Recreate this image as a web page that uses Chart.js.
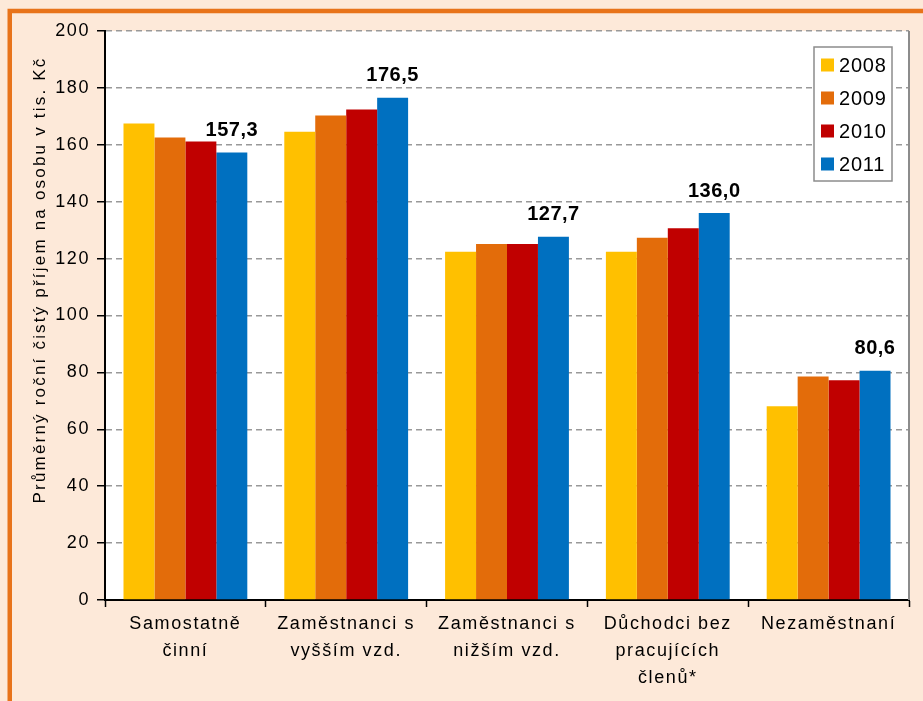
<!DOCTYPE html>
<html>
<head>
<meta charset="utf-8">
<script src="https://cdn.jsdelivr.net/npm/chart.js@4/dist/chart.umd.min.js"></script>
<style>
  html, body { margin: 0; padding: 0; background: #fde9d9; }
  #wrap { width: 923px; height: 701px; }
</style>
</head>
<body>
<div id="wrap"><canvas id="c" width="923" height="701"></canvas></div>
<script>
// kategorie (víceřádkové popisky)
const categories = [
    ['Samostatně', 'činní'],
    ['Zaměstnanci s', 'vyšším vzd.'],
    ['Zaměstnanci s', 'nižším vzd.'],
    ['Důchodci bez', 'pracujících', 'členů*'],
    ['Nezaměstnaní']
];
const years = ['2008', '2009', '2010', '2011'];
const values2008 = [167.5, 164.6, 122.4, 122.4, 68.1];
const values2009 = [162.6, 170.3, 125.1, 127.3, 78.6];
const values2010 = [161.2, 172.4, 125.1, 130.7, 77.2];
const values2011 = [157.3, 176.5, 127.7, 136.0, 80.6];
const yTicks = [0, 20, 40, 60, 80, 100, 120, 140, 160, 180, 200];
const yTitle = 'Průměrný roční čistý příjem na osobu v tis. Kč';

const colors = ['#ffc000', '#e36c0a', '#c00000', '#0070c0'];
const seriesValues = [values2008, values2009, values2010, values2011];
const FONT = '"Liberation Sans", Arial, sans-serif';

// pozadí, rámeček, bílá plocha grafu
const backgroundPlugin = {
    id: 'bg',
    beforeDraw(chart) {
        const ctx = chart.ctx;
        const a = chart.chartArea;
        // širší proložení písma jako v Excelu
        ctx.letterSpacing = '1.6px';
        ctx.save();
        ctx.fillStyle = '#fde9d9';
        ctx.fillRect(0, 0, chart.width, chart.height);
        ctx.strokeStyle = '#e8731a';
        ctx.lineWidth = 4.5;
        ctx.beginPath();
        ctx.moveTo(9.75, chart.height + 5);
        ctx.lineTo(9.75, 11);
        ctx.lineTo(chart.width + 5, 11);
        ctx.stroke();
        ctx.fillStyle = '#ffffff';
        ctx.fillRect(a.left, a.top, a.right - a.left, a.bottom - a.top);
        ctx.restore();
    },
    afterDraw(chart) {
        const ctx = chart.ctx;
        const a = chart.chartArea;
        ctx.save();
        // pravý okraj plochy
        ctx.strokeStyle = '#8c8c8c';
        ctx.lineWidth = 2;
        ctx.beginPath();
        ctx.moveTo(a.right, a.top);
        ctx.lineTo(a.right, a.bottom);
        ctx.stroke();
        // popisek osy Y
        ctx.translate(40, 280);
        ctx.rotate(-Math.PI / 2);
        ctx.fillStyle = '#000';
        ctx.letterSpacing = '2.2px';
        ctx.font = '17px ' + FONT;
        ctx.textAlign = 'center';
        ctx.textBaseline = 'middle';
        ctx.fillText(yTitle, 0, 0);
        ctx.restore();
    }
};

// hodnoty nad sloupci 2011
const labelPlugin = {
    id: 'labels2011',
    afterDatasetsDraw(chart) {
        const ctx = chart.ctx;
        const meta = chart.getDatasetMeta(3);
        ctx.save();
        ctx.letterSpacing = '0.5px';
        ctx.fillStyle = '#000';
        ctx.font = 'bold 20px ' + FONT;
        ctx.textAlign = 'center';
        ctx.textBaseline = 'bottom';
        meta.data.forEach((bar, i) => {
            const txt = values2011[i].toFixed(1).replace('.', ',');
            ctx.fillText(txt, bar.x, bar.y - 12);
        });
        ctx.restore();
    }
};

// legenda uvnitř plochy grafu
const legendBoxPlugin = {
    id: 'legendBox',
    afterDraw(chart) {
        const ctx = chart.ctx;
        const x = 814, y = 47, w = 78, h = 134;
        ctx.save();
        ctx.letterSpacing = '0.8px';
        ctx.fillStyle = '#fff';
        ctx.fillRect(x, y, w, h);
        ctx.strokeStyle = '#8c8c8c';
        ctx.lineWidth = 1.5;
        ctx.strokeRect(x, y, w, h);
        ctx.font = '20px ' + FONT;
        ctx.textBaseline = 'middle';
        ctx.textAlign = 'left';
        years.forEach((yr, i) => {
            const cy = 65 + i * 33;
            ctx.fillStyle = colors[i];
            ctx.fillRect(821, cy - 6.5, 13, 13);
            ctx.fillStyle = '#000';
            ctx.fillText(yr, 839, cy + 1);
        });
        ctx.restore();
    }
};

const ctx = document.getElementById('c').getContext('2d');
new Chart(ctx, {
    type: 'bar',
    data: {
        labels: categories,
        datasets: years.map((yr, i) => ({
            label: yr,
            data: seriesValues[i],
            backgroundColor: colors[i],
            borderWidth: 0,
            categoryPercentage: 0.77,
            barPercentage: 1.0
        }))
    },
    options: {
        responsive: false,
        animation: false,
        layout: { padding: { left: 0, top: 31, right: 14, bottom: 0 } },
        plugins: {
            legend: { display: false },
            tooltip: { enabled: false }
        },
        scales: {
            x: {
                grid: {
                    offset: true,
                    drawOnChartArea: false,
                    tickLength: 7,
                    tickColor: '#000',
                    tickWidth: 1.5
                },
                border: { display: true, color: '#000', width: 2 },
                ticks: {
                    color: '#000',
                    padding: 4,
                    maxRotation: 0,
                    autoSkip: false,
                    font: { family: FONT, size: 18, lineHeight: 1.5 }
                },
                afterFit(scale) { scale.height = 101; }
            },
            y: {
                min: 0,
                max: 200,
                afterBuildTicks(scale) { scale.ticks = yTicks.map(v => ({ value: v })); },
                grid: {
                    color: '#999999',
                    lineWidth: 1.5,
                    tickLength: 8,
                    tickColor: '#000',
                    tickWidth: 1.5,
                    tickBorderDash: []
                },
                border: { display: true, color: '#000', width: 2, dash: [6, 4] },
                ticks: {
                    color: '#000',
                    padding: 7,
                    font: { family: FONT, size: 18 }
                },
                afterFit(scale) { scale.width = 105; }
            }
        }
    },
    plugins: [backgroundPlugin, labelPlugin, legendBoxPlugin]
});
</script>
</body>
</html>
